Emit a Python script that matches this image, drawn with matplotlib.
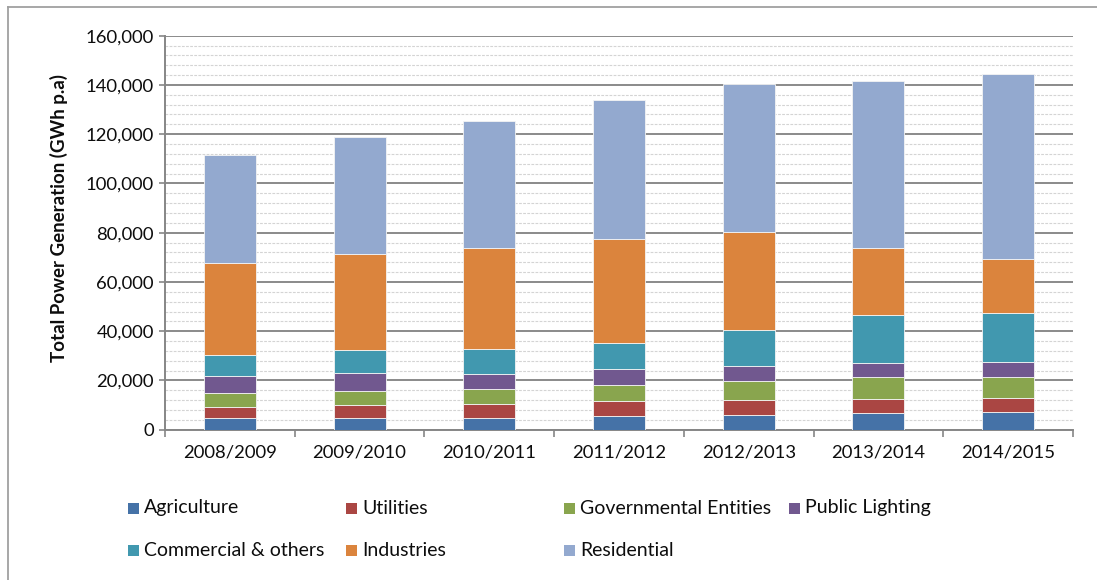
import matplotlib
matplotlib.use("Agg")
import matplotlib.pyplot as plt
from matplotlib.ticker import MultipleLocator, FuncFormatter, FixedLocator
from matplotlib.patches import Rectangle
from matplotlib.lines import Line2D
import numpy as np

years = ["2008/2009", "2009/2010", "2010/2011", "2011/2012", "2012/2013", "2013/2014", "2014/2015"]
agriculture = [4600, 4750, 4750, 5400, 6100, 6900, 7100]
utilities = [4500, 5400, 5850, 6100, 6000, 5700, 5900]
governmental = [5700, 5550, 6000, 6500, 7600, 8700, 8500]
public_lighting = [6900, 7200, 6100, 6500, 6300, 5700, 5900]
commercial = [8800, 9500, 10200, 10600, 14500, 19700, 20100]
industries = [37300, 39100, 40900, 42200, 39900, 27000, 21700]
residential = [43900, 47400, 51400, 56600, 59900, 68000, 75400]

series_names = ["Agriculture", "Utilities", "Governmental Entities", "Public Lighting",
                "Commercial & others", "Industries", "Residential"]
series_values = [agriculture, utilities, governmental, public_lighting, commercial, industries, residential]
colors = ["#4572A7", "#AA4643", "#89A54E", "#71588F", "#4198AF", "#DB843D", "#93A9CF"]

plt.rcParams['font.family'] = ['Lato', 'DejaVu Sans']
txt_color = "#0d0d0d"

W, H = 1097, 580
fig = plt.figure(figsize=(W / 100, H / 100), dpi=100)
ax = fig.add_axes([165 / W, 1 - 429.7 / H, (1073 - 165) / W, (429.7 - 35.7) / H])

x = np.arange(len(years))
bottom = np.zeros(len(years))
for name, vals, c in zip(series_names, series_values, colors):
    ax.bar(x, vals, width=0.4, bottom=bottom, color=c, edgecolor="#f4f4f4", linewidth=0.6,
           label=name, zorder=3)
    bottom += np.array(vals)

ax.set_xlim(-0.5, len(years) - 0.5)
ax.set_ylim(0, 160000)

# y axis
ax.yaxis.set_major_locator(MultipleLocator(20000))
ax.yaxis.set_minor_locator(MultipleLocator(4000))
ax.yaxis.set_major_formatter(FuncFormatter(lambda v, p: f"{int(v):,}"))
ax.tick_params(axis='y', which='major', direction='out', length=4, width=1.2, color="#868686",
               labelsize=13.3, labelcolor=txt_color, pad=4)
ax.tick_params(axis='y', which='minor', length=0)
ax.grid(axis='y', which='major', color="#8a8a8a", linewidth=1.4, zorder=1)
ax.grid(axis='y', which='minor', color="#d4d4d4", linewidth=0.8, linestyle=(0, (2.5, 1.2)), zorder=0)

# x axis: ticks at category boundaries, labels at centres
ax.xaxis.set_major_locator(FixedLocator(np.arange(-0.5, len(years), 1.0)))
ax.xaxis.set_major_formatter(FuncFormatter(lambda v, p: ""))
ax.xaxis.set_minor_locator(FixedLocator(x))
ax.set_xticklabels(years, minor=True)
ax.tick_params(axis='x', which='major', direction='out', length=5, width=1.2, color="#868686")
ax.tick_params(axis='x', which='minor', length=0, labelsize=13.3, labelcolor=txt_color, pad=11)

for s in ["top", "right"]:
    ax.spines[s].set_visible(False)
for s in ["left", "bottom"]:
    ax.spines[s].set_color("#868686")
    ax.spines[s].set_linewidth(1.4)
ax.set_axisbelow(True)

ax.set_ylabel("Total Power Generation (GWh p.a)", fontsize=13.5, fontweight='bold', color=txt_color)
ax.yaxis.set_label_coords(-0.107, 0.537)

# outer chart frame (top and left edges visible)
fig.add_artist(Line2D([8 / W, 1], [1 - 7 / H, 1 - 7 / H], transform=fig.transFigure,
                      color="#a0a0a0", linewidth=1.3))
fig.add_artist(Line2D([8 / W, 8 / W], [0, 1 - 7 / H], transform=fig.transFigure,
                      color="#a0a0a0", linewidth=1.3))

# legend (Excel style layout)
leg_pos = [(128, 508), (346, 508), (564, 508), (789, 508),
           (128, 550), (346, 550), (564, 550)]
for (px, py), name, c in zip(leg_pos, series_names, colors):
    fig.add_artist(Rectangle((px / W, 1 - (py + 5.5) / H), 11 / W, 11 / H,
                             transform=fig.transFigure, facecolor=c, edgecolor='none'))
    fig.text((px + 16) / W, 1 - py / H, name, fontsize=14, color=txt_color,
             ha='left', va='center')

fig.savefig("out.png", dpi=100)
